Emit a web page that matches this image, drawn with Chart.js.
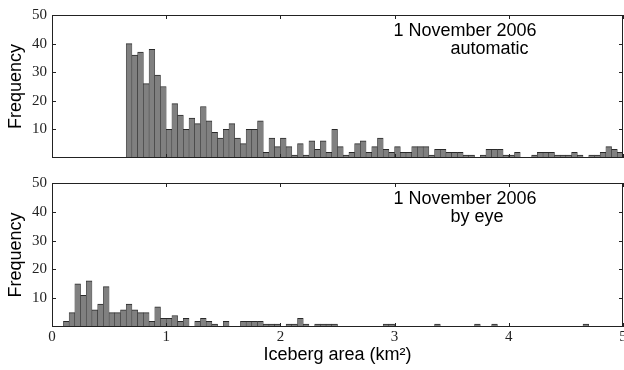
<!DOCTYPE html>
<html>
<head>
<meta charset="utf-8">
<script src="https://cdn.jsdelivr.net/npm/chart.js@4"></script>
<style>
html, body { margin: 0; padding: 0; background: #fff; }
#wrap { position: relative; width: 624px; height: 370px; }
canvas { position: absolute; left: 0; }
</style>
</head>
<body>
<div id="wrap">
  <canvas id="autoChart" width="624" height="170" style="top:0;width:624px;height:170px"></canvas>
  <canvas id="eyeChart" width="624" height="200" style="top:170px;width:624px;height:200px"></canvas>
</div>
<script>
// 直方图分箱左边界 (km²)，每箱 0.05
var binEdges = [
  0.00, 0.05, 0.10, 0.15, 0.20, 0.25, 0.30, 0.35, 0.40, 0.45,
  0.50, 0.55, 0.60, 0.65, 0.70, 0.75, 0.80, 0.85, 0.90, 0.95,
  1.00, 1.05, 1.10, 1.15, 1.20, 1.25, 1.30, 1.35, 1.40, 1.45,
  1.50, 1.55, 1.60, 1.65, 1.70, 1.75, 1.80, 1.85, 1.90, 1.95,
  2.00, 2.05, 2.10, 2.15, 2.20, 2.25, 2.30, 2.35, 2.40, 2.45,
  2.50, 2.55, 2.60, 2.65, 2.70, 2.75, 2.80, 2.85, 2.90, 2.95,
  3.00, 3.05, 3.10, 3.15, 3.20, 3.25, 3.30, 3.35, 3.40, 3.45,
  3.50, 3.55, 3.60, 3.65, 3.70, 3.75, 3.80, 3.85, 3.90, 3.95,
  4.00, 4.05, 4.10, 4.15, 4.20, 4.25, 4.30, 4.35, 4.40, 4.45,
  4.50, 4.55, 4.60, 4.65, 4.70, 4.75, 4.80, 4.85, 4.90, 4.95
];
var binWidth = 0.05;

// 自动识别 (上图)
var autoCounts = [
  0, 0, 0, 0, 0, 0, 0, 0, 0, 0,
  0, 0, 0, 40, 36, 37, 26, 38, 29, 25,
  10, 19, 15, 10, 14, 12, 18, 13, 9, 7,
  10, 12, 7, 5, 10, 10, 13, 2, 7, 4,
  7, 4, 1, 5, 1, 6, 3, 6, 2, 10,
  4, 1, 2, 5, 6, 2, 4, 7, 3, 2,
  4, 2, 2, 4, 4, 4, 1, 3, 3, 2,
  2, 2, 1, 1, 0, 1, 3, 3, 3, 1,
  1, 2, 0, 0, 1, 2, 2, 2, 1, 1,
  1, 2, 1, 0, 1, 1, 2, 4, 3, 2
];

// 目视识别 (下图)
var eyeCounts = [
  0, 0, 2, 5, 15, 11, 16, 6, 8, 14,
  5, 5, 6, 8, 6, 5, 5, 2, 7, 3,
  3, 4, 2, 3, 0, 2, 3, 2, 1, 0,
  2, 0, 0, 2, 2, 2, 2, 1, 1, 1,
  0, 1, 1, 3, 1, 0, 1, 1, 1, 1,
  0, 0, 0, 0, 0, 0, 0, 0, 1, 1,
  0, 0, 0, 0, 0, 0, 0, 1, 0, 0,
  0, 0, 0, 0, 1, 0, 0, 1, 0, 0,
  0, 0, 0, 0, 0, 0, 0, 0, 0, 0,
  0, 0, 0, 1, 0, 0, 0, 0, 0, 0
];

var xTicks = [0, 1, 2, 3, 4, 5];
var yTicks = [10, 20, 30, 40, 50];

function toPoints(counts) {
  var pts = [];
  counts.forEach(function (c, i) {
    if (c > 0) pts.push({ x: binEdges[i] + binWidth / 2, y: c });
  });
  return pts;
}

// 边框 + 向内刻度 + 注释文字
var frameTicks = {
  id: 'frameTicks',
  afterDraw: function (chart) {
    var ctx = chart.ctx, a = chart.chartArea, xs = chart.scales.x, ys = chart.scales.y;
    ctx.save();
    ctx.strokeStyle = '#222';
    ctx.lineWidth = 1;
    ctx.beginPath();
    xTicks.forEach(function (v) {
      var px = Math.round(xs.getPixelForValue(v)) + 0.5;
      ctx.moveTo(px, a.bottom); ctx.lineTo(px, a.bottom - 4);
      ctx.moveTo(px, a.top); ctx.lineTo(px, a.top + 4);
    });
    yTicks.forEach(function (v) {
      var py = Math.round(ys.getPixelForValue(v)) + 0.5;
      ctx.moveTo(a.left, py); ctx.lineTo(a.left + 4, py);
      ctx.moveTo(a.right, py); ctx.lineTo(a.right - 4, py);
    });
    ctx.stroke();
    ctx.strokeRect(a.left + 0.5, a.top + 0.5, a.right - a.left - 1, a.bottom - a.top - 1);

    var note = chart.options.plugins.frameTicks;
    ctx.fillStyle = '#000';
    ctx.font = '18px "Liberation Sans", Arial, sans-serif';
    ctx.textAlign = 'left';
    ctx.textBaseline = 'middle';
    note.lines.forEach(function (l) {
      ctx.fillText(l.text, xs.getPixelForValue(l.x), a.top + l.dy);
    });
    ctx.restore();
  }
};

var tickFont = { family: '"Liberation Serif", "DejaVu Serif", serif', size: 15 };
var titleFont = { family: '"Liberation Sans", Arial, sans-serif', size: 18 };

function makeChart(id, counts, showX, xHeight, padTop, lines) {
  return new Chart(document.getElementById(id), {
    type: 'bar',
    data: {
      datasets: [{
        data: toPoints(counts),
        backgroundColor: '#808080',
        borderColor: '#2a2a2a',
        borderWidth: { top: 1, left: 0.5, right: 0.5, bottom: 0 },
        borderSkipped: false,
        barPercentage: 1,
        categoryPercentage: 1,
        grouped: false
      }]
    },
    options: {
      responsive: false,
      animation: false,
      layout: { padding: { top: padTop, right: 1, left: 0, bottom: 0 } },
      plugins: {
        legend: { display: false },
        tooltip: { enabled: false },
        frameTicks: { lines: lines }
      },
      scales: {
        x: {
          type: 'linear',
          min: 0,
          max: 5,
          offset: false,
          grid: { display: false, drawTicks: false, offset: false },
          border: { display: false },
          ticks: { display: showX, stepSize: 1, padding: 1, color: '#222', font: tickFont, maxRotation: 0 },
          title: { display: showX, text: 'Iceberg area (km²)', color: '#000', font: titleFont, padding: { top: 0, bottom: 4 } },
          afterFit: function (s) { s.height = xHeight; s.paddingLeft = 0; s.paddingRight = 0; }
        },
        y: {
          min: 0,
          max: 50,
          grid: { display: false, drawTicks: false },
          border: { display: false },
          ticks: {
            stepSize: 10,
            padding: 5,
            color: '#222',
            font: tickFont,
            callback: function (v) { return v === 0 ? '' : v; }
          },
          title: { display: true, text: 'Frequency', color: '#000', font: titleFont, padding: { top: 5, bottom: 0 } },
          afterFit: function (s) { s.width = 52; s.paddingTop = 0; s.paddingBottom = 0; }
        }
      }
    },
    plugins: [frameTicks]
  });
}

makeChart('autoChart', autoCounts, false, 12, 15, [
  { text: '1 November 2006', x: 2.99, dy: 16 },
  { text: 'automatic', x: 3.49, dy: 34 }
]);
makeChart('eyeChart', eyeCounts, true, 43, 13, [
  { text: '1 November 2006', x: 2.99, dy: 16 },
  { text: 'by eye', x: 3.49, dy: 34 }
]);
</script>
</body>
</html>
